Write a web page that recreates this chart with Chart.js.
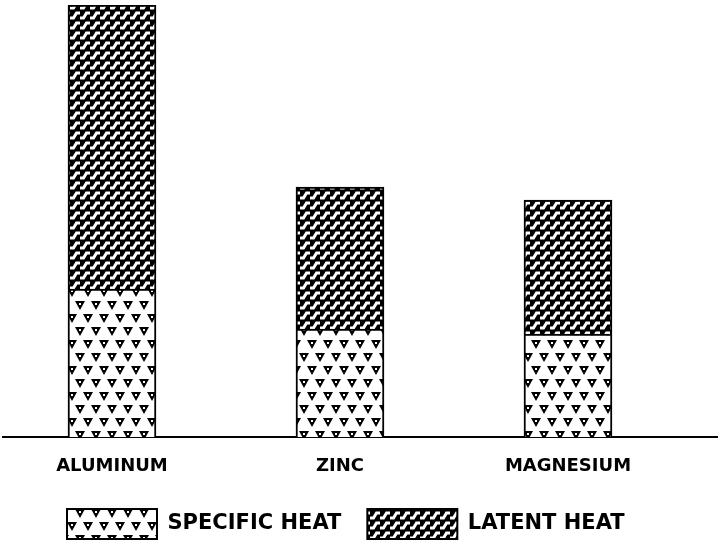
<!DOCTYPE html>
<html>
<head>
<meta charset="utf-8">
<script src="https://cdn.jsdelivr.net/npm/chart.js@4/dist/chart.umd.min.js"></script>
<style>
  html, body { margin: 0; padding: 0; background: #fff; }
  #wrap { width: 718px; height: 549px; position: relative; }
</style>
</head>
<body>
<div id="wrap"><canvas id="c" width="718" height="549"></canvas></div>
<script>
const categories = ['ALUMINUM', 'ZINC', 'MAGNESIUM'];
const specificHeat = [148, 108, 103];
const latentHeat = [284, 142, 134];
const seriesNames = ['SPECIFIC HEAT', 'LATENT HEAT'];

function trianglePattern() {
  const t = document.createElement('canvas');
  t.width = 16; t.height = 26;
  const g = t.getContext('2d');
  g.fillStyle = '#fff'; g.fillRect(0, 0, 16, 26);
  function tri(cx, cy) {
    g.fillStyle = '#000';
    g.beginPath();
    g.moveTo(cx - 5, cy - 4);
    g.lineTo(cx + 5, cy - 4);
    g.lineTo(cx, cy + 5);
    g.closePath();
    g.fill();
    g.fillStyle = '#fff';
    g.fillRect(cx - 1, cy - 2, 2, 2);
  }
  tri(8, 6); tri(0, 19); tri(16, 19);
  return g.createPattern(t, 'repeat');
}

function stairPattern() {
  const t = document.createElement('canvas');
  t.width = 10; t.height = 10;
  const g = t.getContext('2d');
  g.fillStyle = '#000'; g.fillRect(0, 0, 10, 10);
  g.strokeStyle = '#fff';
  g.lineWidth = 3;
  g.lineCap = 'butt';
  g.beginPath();
  g.moveTo(0, 8); g.lineTo(3.5, 8); g.lineTo(6.5, 3); g.lineTo(10, 3);
  g.stroke();
  return g.createPattern(t, 'repeat');
}

const patSpecific = trianglePattern();
const patLatent = stairPattern();

const legendShift = {
  id: 'legendShift',
  afterLayout(chart) {
    if (chart.legend) {
      chart.legend.left = 67 - chart.options.plugins.legend.labels.padding;
    }
  }
};

new Chart(document.getElementById('c'), {
  type: 'bar',
  data: {
    datasets: [
      {
        label: seriesNames[0],
        data: specificHeat.map((v, i) => ({ x: i, y: v })),
        backgroundColor: patSpecific,
        borderColor: '#000',
        borderWidth: 2,
        barThickness: 88
      },
      {
        label: seriesNames[1],
        data: latentHeat.map((v, i) => ({ x: i, y: v })),
        backgroundColor: patLatent,
        borderColor: '#000',
        borderWidth: 2,
        barThickness: 88
      }
    ]
  },
  plugins: [legendShift],
  options: {
    responsive: false,
    animation: false,
    layout: { padding: { left: 3, right: 0, top: 5, bottom: 0 } },
    scales: {
      x: {
        type: 'linear',
        stacked: true,
        offset: false,
        min: -0.478,
        max: 2.658,
        grid: { display: false, drawTicks: false },
        border: { display: true, color: '#000', width: 2 },
        afterBuildTicks(axis) {
          axis.ticks = categories.map((_, i) => ({ value: i }));
        },
        afterFit(axis) {
          axis.height = 46;
        },
        ticks: {
          autoSkip: false,
          maxRotation: 0,
          padding: 19,
          color: '#000',
          font: { family: 'DejaVu Sans', size: 18, weight: 'bold' },
          callback: (v) => categories[Math.round(v)]
        }
      },
      y: {
        stacked: true,
        display: false,
        min: 0,
        max: 432
      }
    },
    plugins: {
      tooltip: { enabled: false },
      legend: {
        display: true,
        position: 'bottom',
        align: 'start',
        labels: {
          boxWidth: 90,
          boxHeight: 30,
          padding: 26,
          color: '#000',
          font: { family: 'DejaVu Sans', size: 21, weight: 'bold' }
        }
      }
    }
  }
});
</script>
</body>
</html>
